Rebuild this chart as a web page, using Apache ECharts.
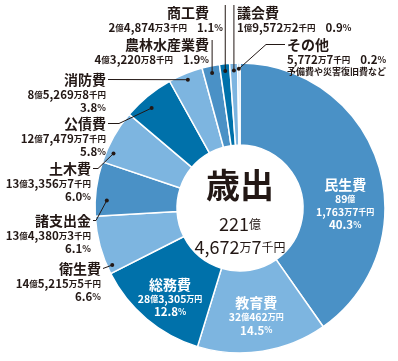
<!DOCTYPE html>
<html><head><meta charset="utf-8">
<script src="https://cdn.jsdelivr.net/npm/echarts@6/dist/echarts.min.js"></script>
<style>html,body{margin:0;padding:0;background:#fff}#c{width:398px;height:361px}</style>
</head><body><div id="c"></div>
<script>
// ---- data ----
const categories = ['民生費','教育費','総務費','衛生費','諸支出金','土木費','公債費','消防費','農林水産業費','商工費','議会費','その他'];
const amountsSen = [8917637,3204620,2833050,1452155,1343803,1333567,1274797,852698,432208,248743,195722,57727]; // 千円
const amountLabels = ['89億1,763万7千円','32億462万円','28億3,305万円','14億5,215万5千円','13億4,380万3千円','13億3,356万7千円','12億7,479万7千円','8億5,269万8千円','4億3,220万8千円','2億4,874万3千円','1億9,572万2千円','5,772万7千円'];
const percents = ['40.3','14.5','12.8','6.6','6.1','6.0','5.8','3.8','1.9','1.1','0.9','0.2'];
const notes = ['','','','','','','','','','','','予備費や災害復旧費など'];
const centerTitle = '歳出';
const totalLabel = ['221億','4,672万7千円'];

// ---- styles ----
const FONT = "'Noto Sans CJK JP','Noto Sans',sans-serif";
const INK = '#231815';
const MED='#4a91c6', LIGHT='#7db5e0', DARK='#0071aa', PALE='#a8cfec';
const sliceColors = [MED, LIGHT, DARK, LIGHT, MED, LIGHT, DARK, LIGHT, MED, DARK, LIGHT, PALE];
const CENTER = [240, 208], RADII = [63, 145];
const labelStyle = [
  {inside:true, dx:6, dy:27, split:true},
  {inside:true, dx:0, dy:5},
  {inside:true, dx:-3, dy:10},
  {x:101, y:260, align:'right', lead:'h', f:0.12, rr:0.965},
  {x:91,  y:212, align:'right', lead:'e', elbow:3,  f:0.3,  rr:0.92},
  {x:91,  y:160, align:'right', lead:'e', elbow:5,  f:0.22, rr:0.95},
  {x:106, y:115, align:'right', lead:'e', elbow:11, f:0.4,  rr:0.92},
  {x:106, y:71,  align:'right', lead:'h', f:0.5, rr:0.955},
  {x:209, y:36,  align:'right', lead:'v', vTop:4, f:0.5, rr:0.95, oneLine:true},
  {x:223, y:4,   align:'right', lead:'v', vTop:1, f:0.5, rr:0.95, oneLine:true, namePad:14},
  {x:237, y:4,   align:'left',  lead:'v', vTop:1, f:0.5, rr:0.95, oneLine:true},
  {x:287, y:36,  align:'left',  lead:'e', elbow:-19, f:0.5, rr:0.96}
];

function amountRich(str, v, u, split) {
  const parts = str.split(/(億|万|千円|円)/).filter(s => s.length);
  let out = '';
  parts.forEach(p => {
    const isUnit = /^(億|万|千円|円)$/.test(p);
    out += '{' + (isUnit ? u : v) + '|' + p + '}';
    if (split && p === '億') out += '\n';
  });
  return out;
}
function pctRich(p, v, u) { return '{' + v + '|' + p + '}{' + u + '|%}'; }

function labelText(i) {
  const s = labelStyle[i];
  if (s.inside) {
    return '{wn|' + categories[i] + '}\n' + amountRich(amountLabels[i], 'wv', 'wu', s.split) + '\n' + pctRich(percents[i], 'wp', 'wpu');
  }
  const nameTag = s.namePad ? 'np' : 'n';
  let t = '{' + nameTag + '|' + categories[i] + '}\n' + amountRich(amountLabels[i], 'v', 'u');
  if (s.oneLine || notes[i]) t += '{gap| }' + pctRich(percents[i], 'v', 'pu');
  else t += '\n' + pctRich(percents[i], 'v', 'pu');
  if (notes[i]) t += '\n{s|' + notes[i] + '}';
  return t;
}

const chart = echarts.init(document.getElementById('c'), null, {renderer:'canvas'});

function sliceLayout(i) {
  try {
    const l = chart.getModel().getSeriesByIndex(0).getData().getItemLayout(i);
    if (l && isFinite(l.cx)) return l;
  } catch (e) {}
  const total = amountsSen.reduce((a, b) => a + b, 0);
  let cum = 0; for (let k = 0; k < i; k++) cum += amountsSen[k];
  const a0 = -Math.PI / 2 + 2 * Math.PI * cum / total;
  return {cx:CENTER[0], cy:CENTER[1], r:RADII[1], r0:RADII[0], startAngle:a0, endAngle:a0 + 2 * Math.PI * amountsSen[i] / total};
}
function slicePoint(i, f, rFrac) {
  const l = sliceLayout(i);
  const a = l.startAngle + f * (l.endAngle - l.startAngle);
  const r = (rFrac == null) ? (l.r + l.r0) / 2 : rFrac * l.r;
  return [l.cx + r * Math.cos(a), l.cy + r * Math.sin(a)];
}
function dotPos(i) { const s = labelStyle[i]; return slicePoint(i, s.f, s.rr); }
function leaderPoints(i) {
  const s = labelStyle[i], d = dotPos(i);
  if (s.lead === 'v') return [[d[0], s.y + s.vTop], d];
  const ex = s.align === 'right' ? s.x + 2 : s.x - 2;
  const ey = s.y + 8.5;
  if (s.lead === 'h') return [[ex, ey], d];
  return [[ex, ey], [ex + s.elbow, ey], d];
}

const rich = {
  n:  {fontFamily:FONT, fontSize:14, fontWeight:'bold', color:INK, lineHeight:17},
  np: {fontFamily:FONT, fontSize:14, fontWeight:'bold', color:INK, lineHeight:17, padding:[0,14,0,0]},
  v:  {fontFamily:FONT, fontSize:11.5, fontWeight:'bold', color:INK, lineHeight:13},
  u:  {fontFamily:FONT, fontSize:8.5, fontWeight:'bold', color:INK, lineHeight:13},
  pu: {fontFamily:FONT, fontSize:9, fontWeight:'bold', color:INK, lineHeight:13},
  gap:{fontFamily:FONT, fontSize:11.5, color:INK, lineHeight:13, width:10},
  s:  {fontFamily:FONT, fontSize:9, fontWeight:'bold', color:INK, lineHeight:12},
  wn: {fontFamily:FONT, fontSize:14, fontWeight:'bold', color:'#fff', lineHeight:16},
  wv: {fontFamily:FONT, fontSize:10.5, fontWeight:'bold', color:'#fff', lineHeight:13},
  wu: {fontFamily:FONT, fontSize:8, fontWeight:'bold', color:'#fff', lineHeight:13},
  wp: {fontFamily:FONT, fontSize:11.5, fontWeight:'bold', color:'#fff', lineHeight:13},
  wpu:{fontFamily:FONT, fontSize:8.5, fontWeight:'bold', color:'#fff', lineHeight:13}
};

const seriesData = categories.map((name, i) => {
  const s = labelStyle[i];
  return {
    name: name,
    value: amountsSen[i],
    itemStyle: {color: sliceColors[i]},
    label: {show:true, position: s.inside ? 'inside' : 'outside', formatter: labelText(i), rich: rich, align: s.inside ? 'center' : s.align},
    labelLine: {show:false}
  };
});

const option = {
  animation: false,
  backgroundColor: '#fff',
  series: [{
    type: 'pie',
    center: CENTER,
    radius: RADII,
    startAngle: 90,
    clockwise: true,
    avoidLabelOverlap: false,
    itemStyle: {borderColor:'#fff', borderWidth:1.5},
    emphasis: {disabled:true},
    label: {fontFamily:FONT},
    data: seriesData,
    labelLayout: function (p) {
      const i = p.dataIndex, s = labelStyle[i];
      if (s.inside) {
        const m = slicePoint(i, 0.5);
        return {x:m[0] + s.dx, y:m[1] + s.dy, align:'center', verticalAlign:'middle'};
      }
      return {x:s.x, y:s.y, align:s.align, verticalAlign:'top'};
    }
  }]
};
chart.setOption(option);

// leader lines with dots + centre text
const l0 = sliceLayout(0);
const graphics = [];
labelStyle.forEach((s, i) => {
  if (s.inside) return;
  const pts = leaderPoints(i), d = pts[pts.length - 1];
  graphics.push({type:'polyline', shape:{points:pts}, style:{stroke:INK, lineWidth:1, fill:null}, z:100, silent:true});
  graphics.push({type:'circle', shape:{cx:d[0], cy:d[1], r:2}, style:{fill:INK}, z:101, silent:true});
});
graphics.push({type:'text', x:l0.cx, y:l0.cy - 23, z:100, style:{text:centerTitle, fontFamily:FONT, fontSize:34, fontWeight:'bold', fill:INK, align:'center', verticalAlign:'middle'}});
graphics.push({type:'text', x:l0.cx, y:l0.cy + 16, z:100, style:{
  text: amountRich(totalLabel[0], 'a', 'b'), align:'center', verticalAlign:'middle',
  rich:{a:{fontFamily:FONT, fontSize:18, fill:INK}, b:{fontFamily:FONT, fontSize:12, fill:INK}}}});
graphics.push({type:'text', x:l0.cx, y:l0.cy + 39, z:100, style:{
  text: amountRich(totalLabel[1], 'a', 'b'), align:'center', verticalAlign:'middle',
  rich:{a:{fontFamily:FONT, fontSize:18, fill:INK}, b:{fontFamily:FONT, fontSize:12, fill:INK}}}});
chart.setOption({graphic: graphics});
</script>
</body></html>
